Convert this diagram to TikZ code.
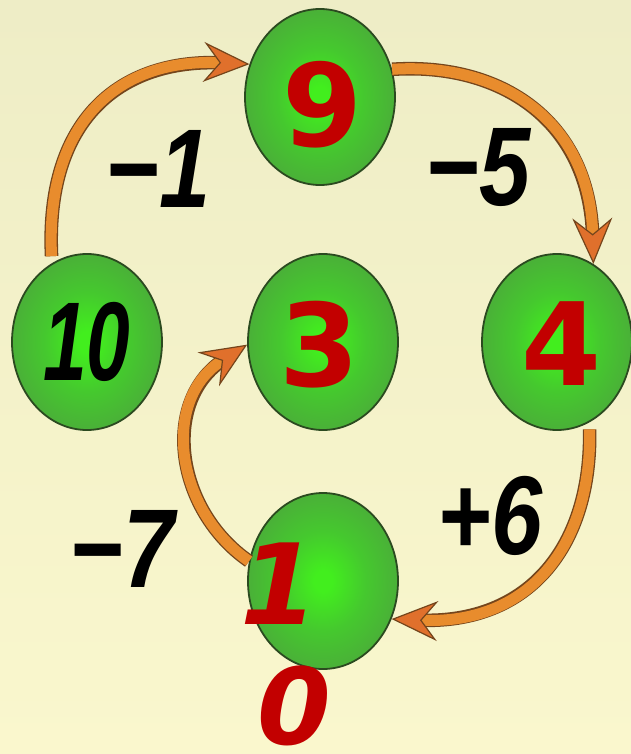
\documentclass[tikz,border=0pt]{standalone}
\usepackage{fontspec}
\usepackage{graphicx}
\usetikzlibrary{shapes.geometric,arrows.meta}
\newfontfamily\dvb{DejaVu Sans Bold}
\newfontfamily\dvbi{DejaVu Sans Bold Oblique}
\newfontfamily\hwfont{Liberation Sans Bold Italic}
\definecolor{bgtop}{HTML}{EEEDC6}
\definecolor{bgbot}{HTML}{FAF7CD}
\definecolor{gA}{HTML}{42EE1E}
\definecolor{gB}{HTML}{45C92E}
\definecolor{gC}{HTML}{4CA53C}
\definecolor{gD}{HTML}{4A963A}
\definecolor{gline}{HTML}{2B4A20}
\definecolor{numred}{HTML}{C20000}
\definecolor{arrfill}{HTML}{E88C2D}
\definecolor{arrhead}{HTML}{E0702C}
\definecolor{arrline}{HTML}{74451C}
\pgfdeclareradialshading{greenball}{\pgfpoint{0bp}{0bp}}{color(0bp)=(gA); color(3bp)=(gA); color(14bp)=(gB); color(30bp)=(gC); color(50bp)=(gD)}
\tikzset{
  ball/.style={ellipse, minimum width=150pt, minimum height=176pt, inner sep=0pt,
    shade, shading=greenball, draw=gline, line width=1.8pt},
  rednum/.style={text=numred, inner sep=0pt, font=\dvb\fontsize{115}{115}\selectfont},
  rednumit/.style={text=numred, inner sep=0pt, font=\dvbi\fontsize{112}{112}\selectfont},
  hwlabel/.style={text=black, inner sep=0pt, font=\hwfont\fontsize{112}{112}\selectfont},
  flow/.style={line width=11pt, draw=arrfill,
    -{Stealth[length=46pt,width=40pt,inset=16pt,fill=arrhead,color=arrline,line width=1.2pt]},
    preaction={draw=arrline, line width=13.6pt, -, shorten >=26pt}},
}
\begin{document}
\begin{tikzpicture}[x=1pt,y=-1pt]
  \useasboundingbox (0,0) rectangle (631,754);
  \shade[top color=bgtop, bottom color=bgbot] (0,0) rectangle (631,754);

  % balls
  \node[ball] (n9)  at (320,97)  {};
  \node[ball] (n10) at (87,342)  {};
  \node[ball] (n3)  at (323,342) {};
  \node[ball] (n4)  at (557,342) {};
  \node[ball] (n1)  at (323,581) {};

  % arrows
  \draw[flow, shorten <=7pt] (n10.114) .. controls (45,120) and (120,58) .. (n9.155);
  \draw[flow] (n9.21) .. controls (500,62) and (590,120) .. (n4.65);
  \draw[flow, shorten <=7pt] (n4.-68) .. controls (592,545) and (530,625) .. (n1.-29.5);
  \draw[flow] (n1.165) .. controls (175,510) and (160,400) .. (n3.182);

  % numbers in balls
  \node[rednum] (t9) at (323,105) {9};
  \node[rednum] (t3) at (320,345) {3};
  \node[rednum] (t4) at (561,344) {4};
  \node[rednumit] (t1) at (279,584) {1};
  \node[rednumit, font=\dvbi\fontsize{106}{106}\selectfont] (t0) at (294,706) {0};
  \node[hwlabel] (t10) at (87,342) {\scalebox{0.7}[1]{10}};

  % operation labels
  \node[hwlabel] (lA) at (158,169) {\scalebox{0.82}[1]{−1}};
  \node[hwlabel] (lB) at (478,168) {\scalebox{0.82}[1]{−5}};
  \node[hwlabel] (lC) at (122,549) {\scalebox{0.82}[1]{−7}};
  \node[hwlabel] (lD) at (490,516) {\scalebox{0.82}[1]{+6}};
\end{tikzpicture}
\end{document}
